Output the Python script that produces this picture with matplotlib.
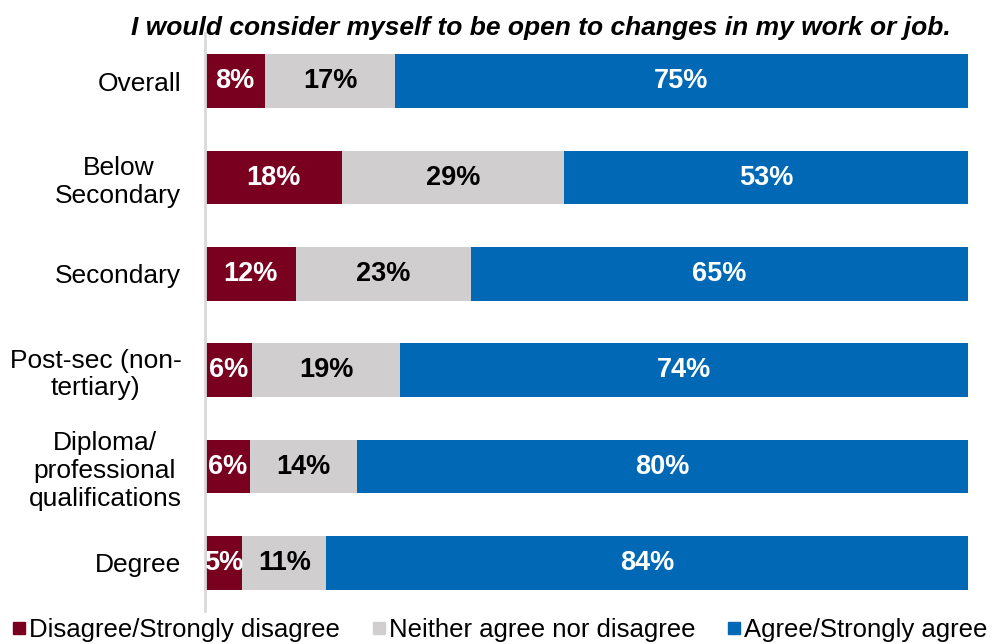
import matplotlib.pyplot as plt
from matplotlib.lines import Line2D

plt.rcParams['font.family'] = ['Liberation Sans', 'DejaVu Sans']

# Data (percent of respondents)
groups = ['Overall', 'Below\nSecondary', 'Secondary', 'Post-sec (non-\ntertiary)',
          'Diploma/\nprofessional\nqualifications', 'Degree']
disagree = [7.9, 18.0, 11.9, 6.2, 5.9, 4.9]
neither = [17.0, 29.0, 23.0, 19.4, 14.0, 11.0]
agree = [75.1, 53.0, 65.1, 74.4, 80.1, 84.1]

series_names = ['Disagree/Strongly disagree', 'Neither agree nor disagree', 'Agree/Strongly agree']
colors = ['#7A0020', '#D0CECE', '#0068B5']
text_colors = ['white', 'black', 'white']

fig = plt.figure(figsize=(9.93, 6.44), dpi=100)
ax = fig.add_axes([205 / 993, 1 - 611 / 644, 763 / 993, 578 / 644])

y = list(range(len(groups)))
left = [0] * len(groups)
for vals, col, tcol in zip([disagree, neither, agree], colors, text_colors):
    bars = ax.barh(y, vals, left=left, height=0.56, color=col)
    for b, v in zip(bars, vals):
        ax.text(b.get_x() + b.get_width() / 2, b.get_y() + b.get_height() / 2,
                f'{round(v):d}%', ha='center', va='center', color=tcol,
                fontsize=19.5, fontweight='bold')
    left = [l + v for l, v in zip(left, vals)]

ax.set_xlim(0, 100)
ax.set_ylim(len(groups) - 0.5, -0.5)
ax.set_yticks(y)
ax.set_yticklabels(groups, fontsize=19, ha='right', multialignment='center', linespacing=1.2)
ax.tick_params(axis='y', length=0, pad=17)
ax.set_xticks([])
for s in ['top', 'right', 'bottom']:
    ax.spines[s].set_visible(False)
ax.spines['left'].set_color('#D9D9D9')
ax.spines['left'].set_linewidth(2)

fig.text(541 / 993, 1 - 28 / 644, 'I would consider myself to be open to changes in my work or job.',
         ha='center', va='center', fontsize=19, fontweight='bold', fontstyle='italic')

handles = [Line2D([], [], marker='s', linestyle='none', markersize=9, color=c) for c in colors]
fig.legend(handles, series_names, loc='center', bbox_to_anchor=(497 / 993, 1 - 630 / 644),
           ncol=3, frameon=False, fontsize=18.5, handletextpad=-0.1, columnspacing=1.0,
           borderpad=0, handlelength=1.0)

fig.savefig('out.png', dpi=100)
